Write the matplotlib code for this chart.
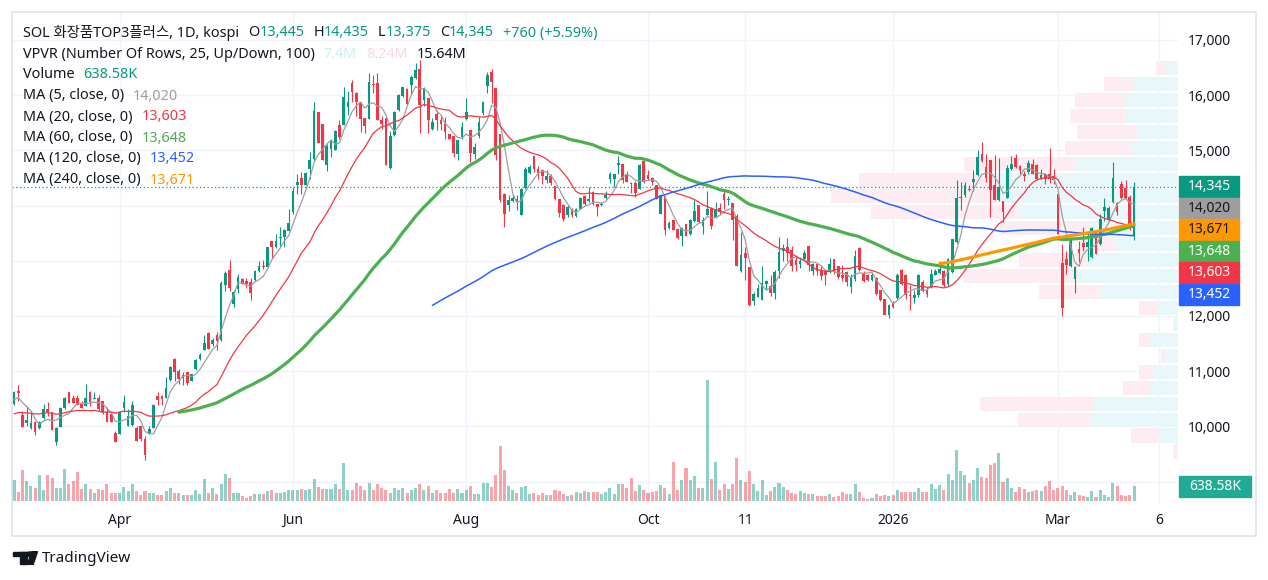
import matplotlib
matplotlib.use('Agg')
import matplotlib.pyplot as plt
from matplotlib.patches import Rectangle, Ellipse, Polygon
import numpy as np
import pandas as pd

W, H = 1268, 580
plt.rcParams['font.family'] = ['Noto Sans', 'Noto Sans CJK KR', 'DejaVu Sans']

# closes before the visible window (only feed the moving averages)
pre_closes = [10050, 10120, 10080, 10160, 10210, 10140, 10090, 10030, 10110, 10190,
              10260, 10180, 10120, 10070, 10150, 10240, 10380, 10450, 10520, 10430]

opens = [10410, 10640, 10207, 10062, 9964, 10086, 9964, 10147, 10317, 10256,
         9721, 9982, 10329, 10620, 10511, 10511, 10408, 10377, 10632, 10498,
         10511, 10468, 10256, 10226, 9879, 9861, 10341, 10013, 10025, 9964,
         10001, 9770, 9879, 9964, 10547, 10547, 10511, 10833, 11227, 10997,
         10875, 10985, 10815, 11045, 11215, 11379, 11683, 11501, 11652, 11561,
         12563, 12836, 12211, 12486, 12667, 12625, 12607, 12649, 12807, 12910,
         12892, 13352, 13243, 13413, 13425, 13546, 13880, 14364, 14504, 14364,
         14667, 14849, 15698, 15485, 14728, 15031, 15013, 15455, 15455, 15788,
         16213, 16043, 15879, 15595, 15576, 16201, 16213, 15558, 15595, 14686,
         15273, 15728, 15982, 16104, 16183, 16304, 16467, 15910, 15940, 15395,
         15667, 15558, 15485, 15303, 15255, 14928, 15243, 15576, 15364, 14940,
         15258, 15670, 16165, 16425, 16124, 15290, 14205, 14018, 14078, 14126,
         13837, 14319, 14596, 14897, 14668, 14638, 14458, 14536, 14355, 14126,
         14018, 13825, 13946, 13813, 13946, 14174, 14078, 14247, 14036, 14018,
         14138, 14476, 14476, 14729, 14759, 14578, 14415, 14415, 14307, 14813,
         14548, 14500, 14367, 13855, 14174, 13596, 13735, 13584, 13452, 13674,
         13494, 13717, 14018, 13632, 13837, 13961, 13781, 13961, 14219, 14093,
         14039, 13817, 12808, 13138, 12880, 12267, 12339, 12297, 12579, 12537,
         12417, 12808, 13180, 13258, 13198, 13018, 12940, 13036, 13276, 12820,
         12940, 12838, 12808, 12796, 13036, 12898, 12748, 12796, 12519, 12676,
         13228, 12760, 12748, 12658, 12688, 12477, 12309, 12027, 12237, 12327,
         12838, 12748, 12387, 12327, 12387, 12616, 12477, 12519, 12748, 12778,
         12820, 12577, 12789, 13334, 14140, 14183, 14304, 14425, 14546, 14940,
         14698, 14831, 14364, 14104, 14092, 14140, 14667, 14867, 14710, 14576,
         14607, 14758, 14728, 14504, 14564, 14576, 14528, 14201, 12952, 13031,
         12910, 12668, 13213, 13316, 13255, 13061, 13516, 13304, 13910, 13740,
         14061, 14043, 14383, 14322, 14164, 13445]

highs = [10650, 10754, 10286, 10377, 10286, 10090, 10104, 10408, 10438, 10260,
         9982, 10347, 10529, 10620, 10560, 10571, 10468, 10772, 10650, 10620,
         10560, 10468, 10347, 10230, 9922, 10256, 10560, 10317, 10468, 10013,
         10013, 9819, 10013, 10408, 10620, 10560, 10893, 11094, 11240, 11045,
         10985, 10985, 10954, 11227, 11337, 11664, 11701, 11604, 11701, 12636,
         12806, 13019, 12472, 12758, 12697, 12685, 12697, 12831, 12989, 13013,
         13255, 13352, 13486, 13607, 13576, 13940, 14334, 14564, 14607, 14607,
         14970, 15880, 15698, 15485, 15110, 15213, 15376, 15546, 16152, 16079,
         16273, 16061, 15879, 15595, 16407, 16364, 16407, 15618, 15595, 15352,
         15716, 16019, 16152, 16122, 16364, 16576, 16637, 16152, 15940, 15595,
         15728, 15637, 15607, 15303, 15255, 15195, 15516, 15940, 15364, 15138,
         15600, 15900, 16420, 16470, 16124, 15301, 14235, 14199, 14199, 14199,
         14319, 14699, 14741, 14897, 14717, 14656, 14638, 14578, 14355, 14126,
         14036, 14006, 13960, 13958, 14156, 14199, 14337, 14259, 14036, 14066,
         14259, 14608, 14578, 14897, 14759, 14620, 14427, 14440, 14759, 14813,
         14638, 14518, 14379, 14217, 14174, 13717, 13735, 13596, 13614, 13674,
         13753, 14096, 14018, 13795, 14259, 13979, 14069, 14039, 14309, 14177,
         14039, 13841, 13516, 13258, 12880, 12435, 12579, 12898, 12658, 12748,
         12838, 13438, 13300, 13408, 13276, 13060, 13060, 13198, 13276, 12958,
         12940, 12928, 12820, 13048, 13036, 12898, 12916, 12820, 12760, 13198,
         13258, 12808, 12760, 12778, 12700, 12477, 12309, 12219, 12267, 12778,
         12856, 12760, 12567, 12477, 12760, 12658, 12519, 12856, 12856, 13000,
         12838, 13049, 13395, 14455, 14425, 14425, 14364, 14649, 15013, 15152,
         14940, 14831, 14910, 14867, 14092, 14728, 14892, 14928, 14728, 14625,
         14819, 14849, 14758, 14667, 14564, 15049, 14667, 14201, 13304, 13171,
         13395, 12910, 13364, 13607, 13546, 13607, 13546, 13849, 14140, 14000,
         14789, 14061, 14443, 14455, 14183, 14435]

lows = [10380, 10468, 9995, 10013, 9952, 9843, 9952, 10135, 10195, 9940,
        9661, 9982, 10317, 10426, 10426, 10389, 10335, 10377, 10377, 10498,
        10286, 10226, 10074, 10086, 9709, 9861, 10256, 10013, 10013, 9740,
        9740, 9394, 9861, 9964, 10389, 10389, 10511, 10815, 10815, 10772,
        10742, 10742, 10815, 11015, 11197, 11379, 11398, 11458, 11379, 11543,
        12454, 12454, 12169, 12425, 12576, 12516, 12286, 12637, 12789, 12850,
        12880, 13050, 13231, 13274, 13255, 13546, 13850, 14213, 14213, 14364,
        14486, 14831, 15134, 14831, 14625, 14879, 15001, 15213, 15455, 15637,
        15879, 15619, 15334, 15316, 15576, 16031, 15558, 15395, 14728, 14668,
        15255, 15716, 15970, 15837, 16019, 16286, 15316, 15800, 15316, 15376,
        15376, 15376, 15213, 15213, 14879, 14831, 15213, 15558, 14788, 14837,
        15230, 15650, 16033, 15862, 14820, 14066, 13612, 13897, 14066, 13915,
        13837, 14307, 14578, 14608, 14488, 14397, 14415, 14367, 14096, 13795,
        13717, 13795, 13800, 13795, 13934, 14018, 14066, 14018, 13813, 13994,
        14126, 14415, 14337, 14578, 14415, 14427, 14235, 14156, 14295, 14415,
        14458, 14379, 14114, 13855, 13476, 13572, 13554, 13391, 13271, 13452,
        13476, 13705, 13693, 13494, 13825, 13576, 13769, 13841, 13937, 14009,
        13378, 12910, 12796, 12658, 12177, 12207, 12339, 12297, 12477, 12357,
        12315, 12688, 13000, 13000, 12808, 12808, 12868, 13018, 12820, 12748,
        12736, 12658, 12567, 12778, 12760, 12676, 12628, 12537, 12417, 12628,
        12820, 12616, 12640, 12640, 12387, 12267, 12015, 11955, 12147, 12315,
        12567, 12315, 12117, 12237, 12339, 12435, 12339, 12507, 12736, 12760,
        12530, 12546, 12771, 13316, 13922, 14164, 14261, 14261, 14528, 14789,
        14425, 13789, 14104, 14080, 13698, 14140, 14637, 14686, 14576, 14443,
        14576, 14564, 14467, 14486, 14383, 14407, 14383, 13486, 12001, 12758,
        12880, 12425, 12971, 13183, 13001, 13049, 13120, 13292, 13728, 13728,
        14043, 13837, 14122, 14122, 13558, 13375]

closes = [10620, 10610, 9995, 10122, 10062, 9903, 10086, 10317, 10268, 9940,
          9964, 10329, 10511, 10426, 10426, 10389, 10335, 10511, 10450, 10523,
          10317, 10256, 10086, 10086, 9721, 10256, 10438, 10183, 10389, 9740,
          9770, 9479, 9952, 10389, 10486, 10498, 10693, 11076, 10985, 10863,
          10924, 10790, 10954, 11197, 11300, 11519, 11398, 11560, 11543, 12594,
          12776, 12503, 12442, 12698, 12576, 12576, 12425, 12807, 12910, 12880,
          13243, 13243, 13352, 13437, 13558, 13680, 14273, 14425, 14364, 14589,
          14819, 15716, 15134, 14831, 15073, 15170, 15352, 15243, 15970, 15879,
          16061, 15879, 15576, 15437, 16243, 16183, 15558, 15485, 14728, 15255,
          15698, 16001, 16152, 15849, 16322, 16455, 15819, 16122, 15558, 15516,
          15546, 15485, 15334, 15213, 14952, 15195, 15425, 15698, 14952, 15060,
          15517, 15880, 16365, 16245, 14913, 14100, 13855, 14096, 14138, 14066,
          14307, 14656, 14699, 14656, 14596, 14536, 14536, 14415, 14126, 13873,
          13765, 13976, 13825, 13946, 14138, 14036, 14126, 14036, 13976, 14036,
          14199, 14578, 14578, 14777, 14458, 14427, 14397, 14235, 14741, 14427,
          14488, 14427, 14126, 14199, 13554, 13693, 13554, 13415, 13596, 13452,
          13735, 13897, 13705, 13735, 13934, 13636, 13919, 13877, 14099, 14117,
          13739, 12910, 13096, 13048, 12207, 12399, 12507, 12597, 12640, 12417,
          12796, 13168, 13228, 13138, 12898, 12916, 12988, 13138, 12916, 12940,
          12820, 12718, 12736, 12940, 12808, 12700, 12688, 12616, 12688, 13078,
          12838, 12640, 12658, 12748, 12399, 12297, 12015, 12207, 12159, 12748,
          12579, 12387, 12357, 12387, 12736, 12459, 12399, 12760, 12808, 12856,
          12560, 13031, 13395, 14140, 14164, 14364, 14286, 14486, 14879, 14807,
          14504, 14286, 14104, 14334, 13880, 14686, 14746, 14698, 14637, 14528,
          14770, 14576, 14486, 14546, 14486, 14486, 14467, 13486, 12152, 12928,
          13395, 12892, 13134, 13255, 13334, 13595, 13130, 13758, 13983, 13958,
          14504, 13890, 14140, 14140, 13585, 14345]

# volume in thousands
volumes = [880, 383, 1306, 838, 625, 568, 1093, 454, 1093, 980,
           540, 540, 1349, 710, 852, 1221, 525, 710, 525, 341,
           497, 454, 710, 341, 341, 355, 582, 426, 738, 426,
           241, 426, 355, 355, 241, 241, 426, 540, 355, 355,
           241, 241, 241, 483, 312, 923, 341, 540, 284, 738,
           1136, 994, 341, 330, 213, 128, 213, 312, 312, 312,
           412, 454, 355, 355, 383, 454, 454, 454, 497, 454,
           497, 923, 596, 525, 525, 497, 738, 497, 1633, 454,
           454, 781, 639, 454, 781, 454, 738, 554, 454, 355,
           554, 454, 554, 355, 454, 554, 738, 454, 639, 355,
           454, 355, 355, 497, 355, 497, 355, 454, 639, 284,
           312, 781, 767, 596, 1093, 2329, 1306, 625, 483, 341,
           596, 625, 284, 341, 241, 341, 241, 241, 483, 426,
           284, 199, 241, 369, 341, 426, 369, 369, 369, 284,
           369, 540, 284, 710, 710, 540, 994, 426, 667, 483,
           341, 383, 426, 667, 568, 284, 1647, 483, 909, 1420,
           880, 1051, 540, 540, 5169, 923, 1661, 454, 710, 497,
           710, 1818, 880, 809, 1264, 710, 426, 880, 241, 426,
           596, 767, 596, 454, 341, 284, 426, 341, 284, 284,
           199, 227, 199, 284, 170, 199, 383, 312, 284, 710,
           383, 142, 99, 142, 284, 199, 241, 199, 241, 483,
           383, 383, 383, 383, 540, 383, 383, 738, 525, 667,
           454, 1146, 899, 2160, 1290, 1088, 783, 899, 1407, 1030,
           1000, 1522, 1624, 2030, 797, 971, 566, 392, 594, 508,
           392, 420, 464, 420, 652, 855, 464, 566, 652, 464,
           276, 392, 276, 218, 174, 420, 174, 464, 276, 174,
           769, 652, 276, 218, 276, 638.58]

assert len(opens) == len(highs) == len(lows) == len(closes) == len(volumes)

ma_periods = [5, 20, 60, 120, 240]
ma_colors = ['#9e9e9e', '#f23645', '#4caf50', '#2962ff', '#ff9800']
ma_widths = [0.9, 0.9, 2.3, 1.1, 2.3]
ma_last = [14020, 13603, 13648, 13452, 13671]
ma_box_text = ['#131722', 'white', 'white', 'white', '#131722']

# volume profile rows, lowest price first (thousands)
vp_up = [0, 91, 439, 424, 146, 126, 66, 146, 25, 101, 399, 510, 460,
         318, 444, 798, 899, 899, 515, 232, 207, 268, 268, 222, 61]
vp_down = [25, 146, 369, 576, 131, 71, 20, 50, 0, 96, 303, 576, 343,
           177, 455, 752, 853, 707, 566, 338, 303, 278, 253, 152, 50]

tick_pos = [25, 66, 107, 150, 173, 208, 247, 271]
tick_labels = ['Apr', 'Jun', 'Aug', 'Oct', '11', '2026', 'Mar', '6']
price_ticks = list(range(9000, 17001, 1000))

UP = '#089981'
DOWN = '#f23645'
TEXT = '#131722'
GRID = '#f0f3fa'
FS = 10.4


def fx(px):
    return px / W


def fy(py):
    return 1 - py / H


fig = plt.figure(figsize=(W / 100, H / 100), dpi=100)
rect = [fx(12), fy(505), (1178 - 12) / W, (505 - 12) / H]
ax_bg = fig.add_axes(rect, zorder=0)
ax_vp = fig.add_axes(rect, zorder=1)
ax_vol = fig.add_axes(rect, zorder=2)
ax = fig.add_axes(rect, zorder=3)

xlim = (-0.47, 275.4)
ylim = (8576, 17507)

# grid
for a in (ax_bg, ax_vp, ax_vol):
    a.axis('off')
ax_bg.set_xlim(xlim)
ax_bg.set_ylim(ylim)
for p in price_ticks:
    ax_bg.axhline(p, color=GRID, lw=1.0)
for t in tick_pos:
    ax_bg.axvline(t, color=GRID, lw=1.0)

# volume profile
lo, hi = min(lows), max(highs)
step = (hi - lo) / len(vp_up)
centers = lo + step * (np.arange(len(vp_up)) + 0.5)
ax_vp.barh(centers, vp_up, height=step * 0.92, left=0, color='#e8f7f9', linewidth=0)
ax_vp.barh(centers, vp_down, height=step * 0.92, left=vp_up, color='#fdecf1', linewidth=0)
total = np.array(vp_up) + np.array(vp_down)
ax_vp.set_xlim(total.max() / 0.298, 0)
ax_vp.set_ylim(ylim)

# volume
x = np.arange(len(closes))
o = np.array(opens)
c = np.array(closes)
up = c >= o
colors = np.where(up, UP, DOWN)
ax_vol.bar(x, volumes, width=0.72, color=colors, alpha=0.45, linewidth=0)
ax_vol.set_xlim(xlim)
ax_vol.set_ylim(-170, 20830)

# candles
ax.set_xlim(xlim)
ax.set_ylim(ylim)
ax.axhline(closes[-1], color=UP, lw=0.9, ls=(0, (1, 2)), zorder=1.5)
ax.vlines(x, lows, highs, colors=colors, linewidth=0.8, zorder=2)
ax.bar(x, np.maximum(np.abs(c - o), 15), bottom=np.minimum(o, c), width=0.64,
       color=colors, linewidth=0, zorder=2.5)

# moving averages
full = pd.Series(pre_closes + closes, dtype=float)
for per, col, lw in zip(ma_periods, ma_colors, ma_widths):
    ma = full.rolling(per).mean().to_numpy()[len(pre_closes):]
    ax.plot(x, ma, color=col, lw=lw, zorder=3, solid_capstyle='round')


def price_px(p):
    return 12 + (ylim[1] - p) / (ylim[1] - ylim[0]) * 493


# price scale labels, stacked so they do not overlap
items = [(closes[-1], UP, 'white')] + list(zip(ma_last, ma_colors, ma_box_text))
items.sort(key=lambda it: -it[0])
box_py = []
prev = -1e9
for val, col, tc in items:
    py = max(price_px(val), prev + 21.5)
    prev = py
    box_py.append(py)
    fig.add_artist(Rectangle((fx(1179), fy(py + 10.5)), 60 / W, 21 / H,
                             transform=fig.transFigure, color=col, zorder=5))
    fig.text(fx(1209), fy(py), f'{val:,}', color=tc, ha='center', va='center',
             fontsize=10, zorder=6)

vol_py = 501 - volumes[-1] / 42.6
box_py.append(vol_py)
fig.add_artist(Rectangle((fx(1179), fy(vol_py + 10.5)), 72 / W, 21 / H,
                         transform=fig.transFigure, color='#22ab94', zorder=5))
fig.text(fx(1215), fy(vol_py), f'{volumes[-1]:.2f}K', color='white', ha='center',
         va='center', fontsize=10, zorder=6)

# axes text; scale labels hidden behind a box are left out
ax.patch.set_visible(False)
for s in ax.spines.values():
    s.set_visible(False)
ax.set_xticks(tick_pos, tick_labels)
ax.tick_params(axis='x', length=0, pad=6, labelsize=10, labelcolor=TEXT)
for lab in ax.get_xticklabels():
    if lab.get_text() == '2026':
        lab.set_fontweight('bold')
ax.yaxis.tick_right()
ylabels = [f'{p:,}' if min(abs(price_px(p) - b) for b in box_py) > 16 else ''
           for p in price_ticks]
ax.set_yticks(price_ticks, ylabels)
ax.tick_params(axis='y', length=0, pad=7, labelsize=10, labelcolor=TEXT)

# legend rows
renderer = fig.canvas.get_renderer()


def text_run(px, py, pieces, size=FS):
    for s, col, gap in pieces:
        t = fig.text(fx(px), fy(py), s, color=col, fontsize=size, ha='left',
                     va='center', zorder=7)
        px += t.get_window_extent(renderer).width + gap


chg = closes[-1] - closes[-2]
text_run(23, 33, [('SOL 화장품TOP3플러스, 1D, kospi', TEXT, 9),
                  ('O', TEXT, 0), (f'{opens[-1]:,}', UP, 9),
                  ('H', TEXT, 0), (f'{highs[-1]:,}', UP, 9),
                  ('L', TEXT, 0), (f'{lows[-1]:,}', UP, 9),
                  ('C', TEXT, 0), (f'{closes[-1]:,}', UP, 9),
                  (f'+{chg:,} (+{chg / closes[-2] * 100:.2f}%)', UP, 0)])
text_run(23, 54, [('VPVR (Number Of Rows, 25, Up/Down, 100)', TEXT, 9),
                  ('7.4M', '#cfeff3', 9), ('8.24M', '#fbd8e0', 9),
                  ('15.64M', TEXT, 0)])
text_run(23, 75, [('Volume', TEXT, 9), (f'{volumes[-1]:.2f}K', UP, 0)])
for i, (per, col, val) in enumerate(zip(ma_periods, ma_colors, ma_last)):
    text_run(23, 96 + i * 21, [(f'MA ({per}, close, 0)', TEXT, 9), (f'{val:,}', col, 0)])

# outer frame and logo
fig.add_artist(Rectangle((fx(12), fy(536)), (1256 - 12) / W, (536 - 12) / H,
                         transform=fig.transFigure, fill=False, edgecolor='#e0e3eb',
                         lw=1.2, zorder=8))


def P(px, py):
    return (fx(px), fy(py))


logo = dict(transform=fig.transFigure, color=TEXT, zorder=8)
fig.add_artist(Polygon([P(12.7, 551.7), P(26.7, 551.7), P(26.7, 556), P(12.7, 556)], **logo))
fig.add_artist(Polygon([P(20, 551.7), P(26.7, 551.7), P(26.7, 564.3), P(20, 564.3)], **logo))
fig.add_artist(Ellipse(P(29.6, 554.2), 4.6 / W, 4.6 / H, **logo))
fig.add_artist(Polygon([P(31.8, 551.7), P(37.5, 551.7), P(33.2, 564.3), P(27.5, 564.3)], **logo))
fig.text(fx(41.5), fy(558.3), 'TradingView', color=TEXT, fontsize=11,
         ha='left', va='center', zorder=8)

fig.savefig('out.png', dpi=100, facecolor='white')
